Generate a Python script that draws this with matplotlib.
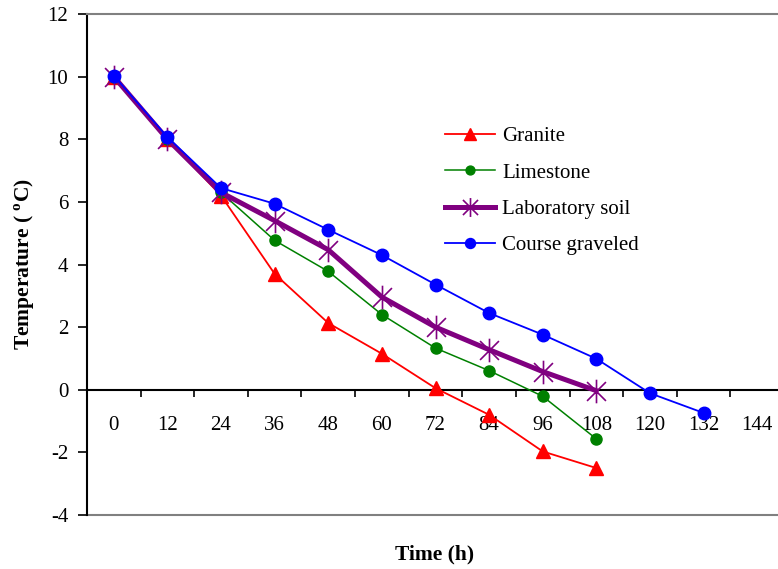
import numpy as np
import matplotlib
matplotlib.use('Agg')
import matplotlib.pyplot as plt
from matplotlib.path import Path
from matplotlib.ticker import FixedLocator

plt.rcParams['font.family'] = 'Liberation Serif'
plt.rcParams['mathtext.fontset'] = 'custom'
plt.rcParams['mathtext.rm'] = 'Liberation Serif'
plt.rcParams['mathtext.bf'] = 'Liberation Serif:bold'

# data
hours = ['0', '12', '24', '36', '48', '60', '72', '84', '96', '108', '120', '132', '144']
granite = [10.0, 8.0, 6.2, 3.7, 2.13, 1.15, 0.05, -0.8, -1.97, -2.5]
limestone = [10.0, 8.0, 6.3, 4.77, 3.78, 2.4, 1.33, 0.61, -0.21, -1.57]
lab_soil = [10.0, 8.0, 6.3, 5.4, 4.47, 2.96, 2.0, 1.28, 0.58, -0.03]
gravel = [10.03, 8.07, 6.44, 5.94, 5.11, 4.3, 3.36, 2.45, 1.76, 0.99, -0.11, -0.74]

# asterisk marker like the spreadsheet one: an X with a vertical bar
star = Path([(0, -1), (0, 1), (-0.8, -0.8), (0.8, 0.8), (-0.8, 0.8), (0.8, -0.8)],
            [Path.MOVETO, Path.LINETO, Path.MOVETO, Path.LINETO, Path.MOVETO, Path.LINETO])

fig = plt.figure(figsize=(7.78, 5.69), dpi=100)
ax = fig.add_axes([87/778, 54/569, 697/778, 501/569])

ax.plot(range(len(granite)), granite, color='red', lw=1.3, marker='^', ms=10, label='Granite', zorder=3)
ax.plot(range(len(limestone)), limestone, color='green', lw=1.1, marker='o', ms=8, label='Limestone', zorder=3)
ax.plot(range(len(lab_soil)), lab_soil, color='purple', lw=3.6, marker=star, ms=17, mew=1.2,
        label='Laboratory soil', zorder=4)
ax.plot(range(len(gravel)), gravel, color='blue', lw=1.3, marker='o', ms=9, label='Course graveled', zorder=5)

ax.set_xlim(-0.5, len(hours) - 0.5)
ax.set_ylim(-4, 12)
ax.set_yticks(np.arange(-4, 13, 2))
ax.set_yticklabels(['-4', '-2', '0', '2', '4', '6', '8', '10', '12'])
ax.tick_params(axis='y', direction='out', length=6.5, width=1.2, labelsize=15, pad=7)

ax.spines['bottom'].set_position(('data', 0))
ax.spines['bottom'].set_linewidth(1.5)
ax.spines['left'].set_linewidth(1.5)
ax.spines['right'].set_visible(False)
ax.spines['top'].set_color('#808080')
ax.spines['top'].set_linewidth(1.5)
ax.axhline(-4, color='#808080', lw=1.5, clip_on=False, zorder=1)

ax.set_xticks(range(len(hours)))
ax.set_xticklabels(hours)
ax.xaxis.set_minor_locator(FixedLocator(np.arange(0.5, len(hours) - 0.5, 1)))
ax.tick_params(axis='x', which='major', length=0, labelsize=15, pad=19)
ax.tick_params(axis='x', which='minor', direction='out', length=5, width=1.2)

ax.set_ylabel('Temperature ( $^{\\mathbf{o}}$C)', fontsize=15.5, fontweight='bold')
ax.yaxis.set_label_coords(-50 / 697, 0.5)
ax.set_xlabel('Time (h)', fontsize=15.5, fontweight='bold')
ax.xaxis.set_label_coords((435 - 87) / 697, -29 / 501)

ax.legend(loc='center left', bbox_to_anchor=(445 / 778, 1 - 191 / 569), bbox_transform=fig.transFigure,
          frameon=False, fontsize=15, borderpad=0, borderaxespad=0,
          handlelength=2.4, labelspacing=0.8, handletextpad=0.35, markerscale=0.8)

fig.savefig('out.png', dpi=100)
